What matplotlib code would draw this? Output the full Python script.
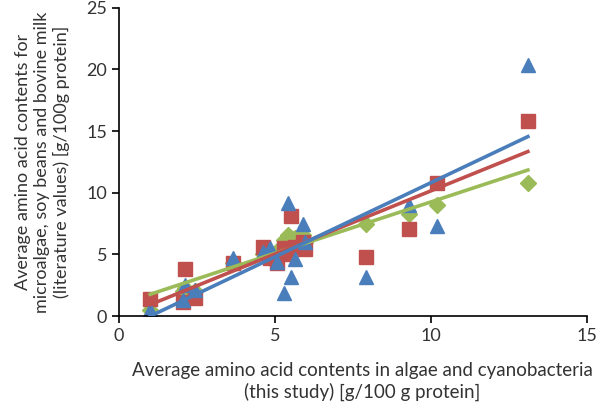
import matplotlib.pyplot as plt
import numpy as np

# values
x_vals = [1.0, 2.05, 2.1, 2.45, 3.65, 4.6, 4.85, 5.05, 5.3, 5.4, 5.5, 5.65, 5.9, 5.95, 7.9, 9.3, 10.2, 13.1]
microalgae = [0.5, 1.3, 2.5, 2.1, 4.7, 5.2, 5.5, 4.4, 1.9, 9.15, 3.2, 4.6, 7.5, 6.0, 3.2, 9.0, 7.3, 20.4]
soy = [1.4, 1.1, 3.8, 1.45, 4.3, 5.6, 4.7, 4.3, 5.5, 5.0, 8.1, 5.6, 6.0, 5.4, 4.8, 7.05, 10.8, 15.8]
milk = [0.5, 2.0, 2.3, 2.0, 4.3, 5.0, 5.0, 5.3, 6.2, 6.6, 6.3, 6.3, 6.6, 6.0, 7.5, 8.3, 9.0, 10.8]

blue = '#4a7ebb'
red = '#c0504d'
green = '#9bbb59'

plt.rcParams['font.family'] = ['Lato', 'DejaVu Sans']

fig = plt.figure(figsize=(6.01, 4.12), dpi=100)
ax = fig.add_axes([0.198, 0.233, 0.779, 0.748])

x = np.array(x_vals)
series = [(milk, green, 'D', 8), (soy, red, 's', 9.5), (microalgae, blue, '^', 10.5)]
for y, c, m, ms in series:
    ax.plot(x, y, linestyle='none', marker=m, color=c, markersize=ms, zorder=2)

# linear trendlines
xs = np.array([x.min(), x.max()])
for y, c, m, ms in series:
    k, b = np.polyfit(x, y, 1)
    ax.plot(xs, k * xs + b, color=c, linewidth=2.6, zorder=3)

ax.set_xlim(0, 15)
ax.set_ylim(0, 25)
ax.set_xticks([0, 5, 10, 15])
ax.set_yticks([0, 5, 10, 15, 20, 25])
for s in ['top', 'right']:
    ax.spines[s].set_visible(False)
for s in ['left', 'bottom']:
    ax.spines[s].set_linewidth(1.2)
ax.tick_params(direction='out', length=5, width=1.2, labelsize=13, labelcolor='#333333', color='black')

ax.set_xlabel("Average amino acid contents in algae and cyanobacteria\n(this study) [g/100 g protein]",
              fontsize=13.5, color='#333333', labelpad=14)
ax.xaxis.set_label_coords(0.52, -0.15)
ax.set_ylabel("Average amino acid contents for\nmicroalgae, soy beans and bovine milk\n(literature values) [g/100g protein]",
              fontsize=13, color='#333333', labelpad=12)

fig.savefig('out.png', dpi=100)
